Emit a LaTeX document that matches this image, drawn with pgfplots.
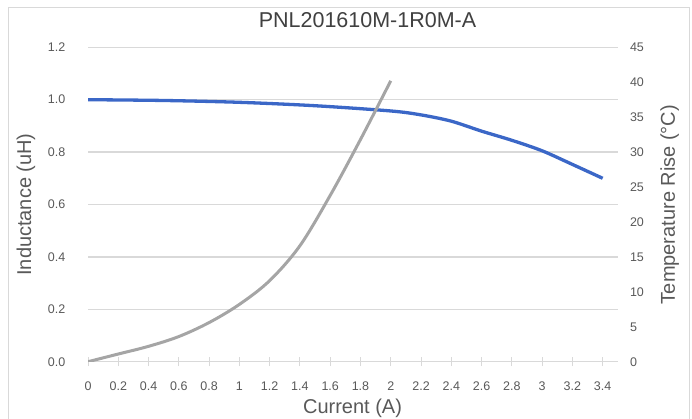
\documentclass[border=0pt]{standalone}
\usepackage{fontspec}
\setmainfont{Liberation Sans}
\usepackage{pgfplots}
\pgfplotsset{compat=1.18}
\definecolor{lblue}{RGB}{59,103,199}
\definecolor{lgray}{RGB}{165,165,165}
\definecolor{gridc}{RGB}{217,217,217}
\definecolor{txt}{RGB}{89,89,89}
\definecolor{ttl}{RGB}{64,64,64}
\begin{document}
\begin{tikzpicture}
\begin{axis}[
  scale only axis, width=529.8pt, height=314.4pt,
  xmin=0, xmax=3.5, ymin=0, ymax=1.2,
  axis x line*=bottom, axis y line*=left,
  y axis line style={draw=none},
  x axis line style={-, draw=gridc, line width=1.3pt},
  xtick={0,0.2,0.4,0.6,0.8,1,1.2,1.4,1.6,1.8,2,2.2,2.4,2.6,2.8,3,3.2,3.4},
  xticklabels={0,0.2,0.4,0.6,0.8,1,1.2,1.4,1.6,1.8,2,2.2,2.4,2.6,2.8,3,3.2,3.4},
  ytick={0,0.2,0.4,0.6,0.8,1.0,1.2},
  yticklabels={0.0,0.2,0.4,0.6,0.8,1.0,1.2},
  tick align=center, major tick length=9pt,
  xtick style={draw=gridc, line width=1pt},
  ytick style={draw=none},
  ymajorgrids, grid style={draw=gridc, line width=1.3pt},
  xticklabel style={font=\fontsize{12.5}{15}\selectfont, text=txt, anchor=base, inner sep=0pt, yshift=-24.3pt},
  yticklabel style={font=\fontsize{12.5}{15}\selectfont, text=txt, anchor=east, inner sep=0pt, xshift=-18pt},
  title={PNL201610M-1R0M-A},
  title style={font=\fontsize{21.5}{25}\selectfont, text=ttl, at={(axis description cs:0.5276,1.0423)}, anchor=base, inner sep=0pt},
  xlabel={Current (A)},
  xlabel style={font=\fontsize{20}{24}\selectfont, text=txt, at={(axis description cs:0.4993,0)}, anchor=base, inner sep=0pt, yshift=-52.3pt},
  ylabel={Inductance (uH)},
  ylabel style={font=\fontsize{20}{24}\selectfont, text=txt, at={(axis description cs:-0.1170,0.5)}, anchor=center, inner sep=0pt},
]
\addplot[color=lblue, line width=3.3pt, smooth, tension=0.5] coordinates {
 (0,1.000) (0.5,0.997) (1.0,0.990) (1.5,0.977) (2.0,0.957) (2.2,0.942)
 (2.4,0.918) (2.6,0.880) (2.8,0.845) (3.0,0.805) (3.2,0.753) (3.4,0.700)
};
\end{axis}
\begin{axis}[
  scale only axis, width=529.8pt, height=314.4pt,
  xmin=0, xmax=3.5, ymin=0, ymax=45,
  axis x line=none, axis y line*=right,
  y axis line style={draw=none},
  ytick={0,5,10,15,20,25,30,35,40,45},
  yticklabels={0,5,10,15,20,25,30,35,40,45},
  ytick style={draw=none},
  yticklabel style={font=\fontsize{12.5}{15}\selectfont, text=txt, anchor=west, inner sep=0pt, xshift=12pt},
  ylabel={Temperature Rise (°C)},
  ylabel style={font=\fontsize{20}{24}\selectfont, text=txt, at={(axis description cs:1.0981,0.5)}, anchor=center, inner sep=0pt},
]
\addplot[color=lgray, line width=3pt, smooth, tension=0.55] coordinates {
 (0,0) (0.2,1.1) (0.4,2.2) (0.6,3.6) (0.8,5.6) (1.0,8.2) (1.2,11.6)
 (1.4,16.6) (1.6,23.8) (1.8,31.8) (2.0,40.2)
};
\end{axis}
\draw[gridc, line width=1pt] (-79pt,-80pt) rectangle (601pt,353.7pt);
\pgfresetboundingbox
\useasboundingbox (-88pt,-57.3pt) rectangle (604pt,361.7pt);
\end{tikzpicture}
\end{document}
